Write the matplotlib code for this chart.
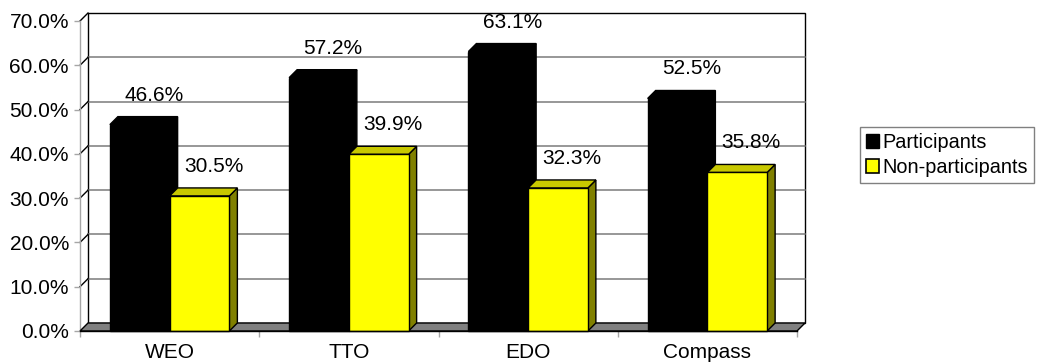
import matplotlib
matplotlib.use('Agg')
import matplotlib.pyplot as plt
from matplotlib.patches import Polygon, Patch
from matplotlib.ticker import FuncFormatter

categories = ['WEO', 'TTO', 'EDO', 'Compass']
participants = [46.6, 57.2, 63.1, 52.5]
non_participants = [30.5, 39.9, 32.3, 35.8]
series_names = ['Participants', 'Non-participants']
y_ticks = [0, 10, 20, 30, 40, 50, 60, 70]

FS = 15
plt.rcParams['font.family'] = ['Liberation Sans', 'DejaVu Sans']
plt.rcParams['font.size'] = FS

W, H, DPI = 1039, 362, 100
DEPTH = 8       # depth of the 3-D effect, in pixels
BAR_W = 1 / 3   # gap width 100%

fig = plt.figure(figsize=(W / DPI, H / DPI), dpi=DPI)
ax = fig.add_axes([80 / W, 31 / H, 717 / W, 310 / H])
n = len(categories)
ymax = y_ticks[-1]
ax.set_xlim(0, n)
ax.set_ylim(0, ymax)
for s in ax.spines.values():
    s.set_visible(False)
ax.patch.set_visible(False)

# convert the pixel depth into data units
ox, oy = ax.transData.transform((0, 0))
dx, dy = ax.transData.inverted().transform((ox + DEPTH, oy + DEPTH))


def poly(pts, fc, ec='black', lw=1.0, z=1):
    ax.add_patch(Polygon(pts, closed=True, facecolor=fc, edgecolor=ec,
                         linewidth=lw, clip_on=False, zorder=z,
                         joinstyle='miter'))


# back wall with gridlines
poly([(dx, dy), (n + dx, dy), (n + dx, ymax + dy), (dx, ymax + dy)], 'white', z=0)
for v in y_ticks[1:-1]:
    ax.plot([dx, n + dx], [v + dy, v + dy], color='#7a7a7a', lw=1.1,
            clip_on=False, zorder=0.5)
    ax.plot([0, dx], [v, v + dy], color='black', lw=1, clip_on=False, zorder=0.5)
ax.plot([0, dx], [ymax, ymax + dy], color='black', lw=1, clip_on=False, zorder=0.5)
ax.plot([0, 0], [0, ymax], color='#a6a6a6', lw=1, clip_on=False, zorder=0.5)

# floor
poly([(0, 0), (n, 0), (n + dx, dy), (dx, dy)], '#808080', z=0.6)


def bar3d(x, v, front, top, side):
    w = BAR_W
    poly([(x + w, 0), (x + w + dx, dy), (x + w + dx, v + dy), (x + w, v)], side, z=2)
    poly([(x, v), (x + w, v), (x + w + dx, v + dy), (x + dx, v + dy)], top, z=2)
    poly([(x, 0), (x + w, 0), (x + w, v), (x, v)], front, z=2)
    ax.annotate(f'{v:.1f}%', xy=(x + w / 2 + dx, v + dy), xytext=(6, 16),
                textcoords='offset pixels', ha='center', va='baseline',
                fontsize=FS, color='black', zorder=3)


for i in range(n):
    bar3d(i + 1 / 6, participants[i], 'black', 'black', 'black')
    bar3d(i + 1 / 6 + BAR_W, non_participants[i], '#ffff00', '#c8c800', '#808000')

ax.plot([0, n], [0, 0], color='black', lw=1, clip_on=False, zorder=2.5)

# axes ticks
ax.set_yticks(y_ticks)
ax.yaxis.set_major_formatter(FuncFormatter(lambda v, _: f'{v:.1f}%'))
ax.tick_params(axis='y', length=4, width=1, color='#a6a6a6', pad=4, labelsize=FS)
ax.set_xticks(range(n + 1))
ax.set_xticklabels([])
ax.set_xticks([i + 0.5 for i in range(n)], minor=True)
ax.set_xticklabels(categories, minor=True)
ax.tick_params(axis='x', which='major', length=4, width=1, color='#a6a6a6')
ax.tick_params(axis='x', which='minor', length=0, pad=9, labelsize=FS)

handles = [Patch(facecolor='black', edgecolor='black'),
           Patch(facecolor='#ffff00', edgecolor='black', linewidth=1.2)]
leg = fig.legend(handles, series_names, loc='upper left',
                 bbox_to_anchor=(860 / W, 1 - 127 / H), frameon=True,
                 fancybox=False, edgecolor='#808080', framealpha=1,
                 handlelength=0.65, handleheight=0.65, handletextpad=0.2,
                 borderpad=0.3, borderaxespad=0, labelspacing=0.3,
                 fontsize=14.3)
leg.get_frame().set_linewidth(1)

fig.savefig('out.png', dpi=DPI)
